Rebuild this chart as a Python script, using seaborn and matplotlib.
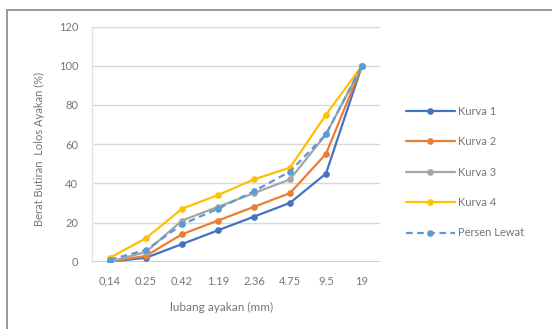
import matplotlib
matplotlib.use("Agg")
import matplotlib.pyplot as plt
from matplotlib.patches import Rectangle
import seaborn as sns
import pandas as pd

# Sieve openings (mm) shown as categories on the x axis
ukuran = ["0,14", "0.25", "0.42", "1.19", "2.36", "4.75", "9.5", "19"]

# Percent passing for the four grading limit curves and the test result
kurva_1 = [0, 2, 9, 16, 23, 30, 45, 100]
kurva_2 = [0, 3, 14, 21, 28, 35, 55, 100]
kurva_3 = [0, 5, 21, 28, 35, 42, 65, 100]
kurva_4 = [2, 12, 27, 34, 42, 48, 75, 100]
persen_lewat = [1, 6, 19, 27, 36, 46, 65, 100]

seri = ["Kurva 1", "Kurva 2", "Kurva 3", "Kurva 4", "Persen Lewat"]
nilai = [kurva_1, kurva_2, kurva_3, kurva_4, persen_lewat]
warna = ["#4472C4", "#ED7D31", "#A5A5A5", "#FFC000", "#5B9BD5"]

df = pd.DataFrame(
    [(s, u, v) for s, vals in zip(seri, nilai) for u, v in zip(ukuran, vals)],
    columns=["seri", "ukuran", "lolos"],
)

sns.set_theme(style="white")
plt.rcParams["font.family"] = ["Lato", "DejaVu Sans"]
teks = "#767676"

fig = plt.figure(figsize=(5.52, 3.29), dpi=100)
ax = fig.add_axes([92 / 552, 1 - 261.7 / 329, 288 / 552, 235.2 / 329])

sns.lineplot(
    data=df, x="ukuran", y="lolos", hue="seri", style="seri",
    hue_order=seri, style_order=seri, palette=dict(zip(seri, warna)),
    dashes={s: ((3, 2) if s == "Persen Lewat" else "") for s in seri},
    markers={s: "o" for s in seri},
    sort=False, linewidth=1.6, markersize=4.8, markeredgewidth=0,
    ax=ax,
)

ax.set_xlim(-0.5, len(ukuran) - 0.5)
ax.set_ylim(0, 120)
ax.set_yticks(range(0, 121, 20))
ax.yaxis.grid(True, color="#d9d9d9", linewidth=1)
ax.xaxis.grid(False)
for side in ["top", "right", "bottom"]:
    ax.spines[side].set_visible(False)
ax.spines["left"].set_color("#e3e3e3")
ax.spines["left"].set_linewidth(1)
ax.axhline(0, color="#c8c8c8", linewidth=1.2, zorder=1)
ax.tick_params(axis="both", length=0, labelsize=8, colors=teks)
ax.tick_params(axis="x", pad=10)
ax.tick_params(axis="y", pad=10)

ax.set_xlabel("lubang ayakan (mm)", fontsize=8.5, color=teks)
ax.set_ylabel("Berat Butiran  Lolos Ayakan (%)", fontsize=8, color=teks)
ax.xaxis.set_label_coords(0.45, -0.193)
ax.xaxis.label.set_va("center")
ax.yaxis.set_label_coords(-0.184, 0.48)
ax.yaxis.label.set_va("center")

handles, labels = ax.get_legend_handles_labels()
ax.legend(
    handles, labels, loc="center left",
    bbox_to_anchor=(406 / 552, 1 - 172 / 329), bbox_transform=fig.transFigure,
    frameon=False, fontsize=8, labelcolor=teks, handlelength=4.4,
    handletextpad=0.3, labelspacing=1.75, borderpad=0, borderaxespad=0,
)

# chart area frame
fig.patches.append(Rectangle(
    (7 / 552, -0.05), 1.2, 1 - 10 / 329 + 0.05, transform=fig.transFigure,
    fill=False, edgecolor="#9a9a9a", linewidth=1.4, zorder=0,
))

fig.savefig("out.png", dpi=100, facecolor="white")
